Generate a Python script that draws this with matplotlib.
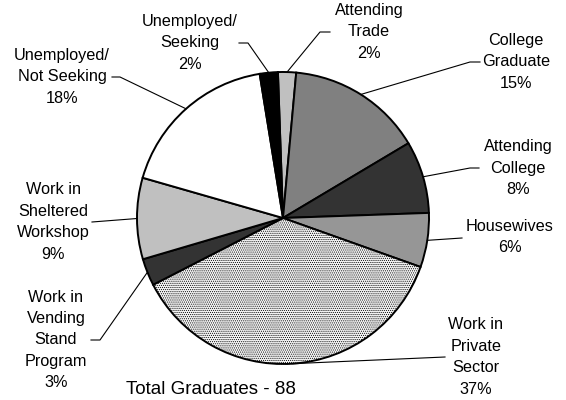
import numpy as np
import matplotlib
matplotlib.use('Agg')
import matplotlib.pyplot as plt

plt.rcParams['font.family'] = ['Liberation Sans', 'DejaVu Sans']
plt.rcParams['hatch.linewidth'] = 0.5
plt.rcParams['hatch.color'] = '#707070'

# Data (clockwise from 12 o'clock)
labels = ['Attending\nTrade', 'College\nGraduate', 'Attending\nCollege', 'Housewives',
          'Work in\nPrivate\nSector', 'Work in\nVending\nStand\nProgram',
          'Work in\nSheltered\nWorkshop', 'Unemployed/\nNot Seeking', 'Unemployed/\nSeeking']
percents = [2, 15, 8, 6, 37, 3, 9, 18, 2]
total_graduates = 88

colors = ['#c0c0c0', '#808080', '#333333', '#969696', '#f4f4f4', '#333333',
          '#c0c0c0', '#ffffff', '#000000']
hatches = [None, None, None, None, '........', None, None, None, None]

# layout in image pixels (x from left, y from top)
W, H = 566, 400
CX, CY, R = 283, 218, 146
START = 92

# text centre and leader elbow for each label
text_pos = [(369, 32), (516, 62), (518, 168), (510, 237), (476, 357),
            (56, 340), (53, 222), (62, 77), (190, 43)]
elbows = [[(330, 32), (320, 32)], [(480, 62), (470, 62)], [(479, 168), (470, 168)],
          [(462, 238)], [(445, 357)], [(91, 340), (100, 340)], [(92, 222)],
          [(112, 77), (120, 77)], [(239, 43), (248, 43)]]

fig = plt.figure(figsize=(W / 100, H / 100), dpi=100)
ax = fig.add_axes([0, 0, 1, 1])

wedges, _ = ax.pie(percents, colors=colors, startangle=START, counterclock=False,
                   center=(CX, H - CY), radius=R, frame=True,
                   wedgeprops=dict(edgecolor='black', linewidth=1.4))
for w, h in zip(wedges, hatches):
    if h:
        w.set_hatch(h)
ax.set_xlim(0, W)
ax.set_ylim(0, H)
ax.set_aspect('equal')
ax.axis('off')

for w, lab, pct, (tx, ty), elb in zip(wedges, labels, percents, text_pos, elbows):
    mid = np.deg2rad((w.theta1 + w.theta2) / 2)
    px = CX + R * np.cos(mid)
    py = (H - CY) + R * np.sin(mid)
    xs = [e[0] for e in elb] + [px]
    ys = [H - e[1] for e in elb] + [py]
    ax.plot(xs, ys, color='black', linewidth=0.8, zorder=3)
    ax.text(tx, H - ty, f"{lab}\n{pct}%", ha='center', va='center',
            fontsize=11.7, linespacing=1.54, color='black')

ax.text(211, H - 389, f"Total Graduates - {total_graduates}", ha='center', va='center',
        fontsize=13.5, color='black')

fig.savefig('out.png', dpi=100)
